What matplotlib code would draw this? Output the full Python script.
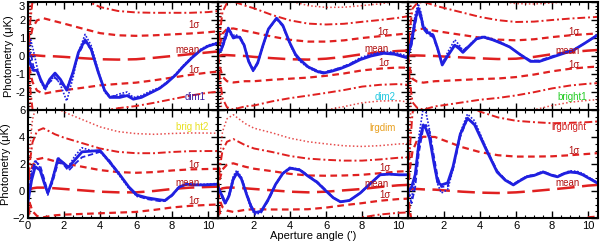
import numpy as np
import matplotlib
matplotlib.use('Agg')
import matplotlib.pyplot as plt
from matplotlib.ticker import MultipleLocator, FixedLocator, FixedFormatter

# envelope grid (aperture angle, arcmin) shared by all panels
x_env = [0, 0.1, 0.25, 0.5, 0.85, 1.5, 2, 3, 4, 5, 6, 7, 8, 9, 10, 10.5]

mean_dim1 = [0, 0.03, 0.05, 0.03, 0.0, -0.02, -0.05, -0.12, -0.18, -0.2, -0.18, -0.1, 0.0, 0.1, 0.2, 0.25]
sig_dim1 = [0, 0.8, 1.5, 1.95, 2.1, 1.95, 1.85, 1.65, 1.45, 1.35, 1.3, 1.25, 1.2, 1.15, 1.12, 1.12]
mean_dim2 = [0, 0.02, 0.05, 0.05, 0.03, 0.0, -0.05, -0.12, -0.18, -0.2, -0.15, -0.05, 0.1, 0.2, 0.28, 0.3]
sig_dim2 = [0, 0.6, 1.2, 1.45, 1.5, 1.4, 1.35, 1.2, 1.08, 1.0, 0.95, 0.92, 0.9, 0.9, 0.92, 0.95]
mean_bright1 = [0, 0.02, 0.03, 0.03, 0.02, 0.0, -0.03, -0.08, -0.13, -0.17, -0.15, -0.05, 0.1, 0.22, 0.3, 0.33]
sig_bright1 = [0, 0.7, 1.3, 1.45, 1.5, 1.4, 1.35, 1.25, 1.15, 1.08, 1.02, 0.98, 0.95, 0.93, 0.92, 0.92]
mean_bright2 = [0, 0.1, 0.2, 0.25, 0.25, 0.2, 0.15, 0.05, -0.05, -0.1, -0.1, 0.0, 0.15, 0.25, 0.3, 0.32]
sig_bright2 = [0, 1.0, 1.7, 2.1, 2.2, 2.0, 1.9, 1.75, 1.6, 1.5, 1.45, 1.4, 1.37, 1.35, 1.33, 1.32]
mean_lrgdim = [0, 0.1, 0.2, 0.25, 0.25, 0.2, 0.15, 0.05, -0.05, -0.1, -0.05, 0.05, 0.15, 0.3, 0.42, 0.45]
sig_lrgdim = [0, 0.8, 1.4, 1.7, 1.8, 1.6, 1.5, 1.42, 1.32, 1.25, 1.18, 1.1, 1.05, 1.02, 1.02, 1.02]
mean_lrgbright = [0, 0.1, 0.15, 0.15, 0.12, 0.1, 0.05, -0.05, -0.12, -0.15, -0.1, 0.0, 0.12, 0.25, 0.4, 0.45]
sig_lrgbright = [0, 1.5, 2.8, 3.6, 3.9, 3.9, 3.7, 3.3, 3.0, 2.8, 2.65, 2.55, 2.45, 2.4, 2.35, 2.35]

# measured photometry profiles (solid / dashed / dotted)
x_dim1 = [0, 0.15, 0.3, 0.5, 0.7, 0.95, 1.2, 1.5, 1.8, 2.15, 2.5, 2.8, 3.17, 3.5, 3.9, 4.25, 4.55, 5.1, 5.5, 5.85, 6.3, 6.8, 7.3, 7.7, 8.2, 8.6, 9.1, 9.6, 10.0, 10.5]
sol_dim1 = [-0.05, -0.5, -0.8, -0.8, -1.3, -1.8, -1.3, -0.95, -1.3, -1.9, -0.9, 0.2, 0.9, 0.4, -0.9, -1.9, -2.3, -2.3, -2.2, -2.4, -2.3, -2.05, -1.8, -1.5, -1.05, -0.6, -0.1, 0.33, 0.55, 0.7]
das_dim1 = [-0.05, 0.2, -0.6, -0.8, -1.4, -1.75, -1.45, -1.2, -1.5, -1.8, -0.9, 0.1, 0.8, 0.35, -0.9, -1.9, -2.25, -2.2, -2.15, -2.35, -2.25, -2.05, -1.8, -1.5, -1.05, -0.6, -0.1, 0.33, 0.55, 0.7]
dot_dim1 = [-0.05, 0.9, 0.3, -0.6, -1.4, -1.9, -1.4, -1.1, -1.6, -2.5, -1.2, 0.2, 1.2, 0.6, -0.8, -2.0, -2.3, -2.1, -2.0, -2.3, -2.2, -1.95, -1.75, -1.45, -1.0, -0.55, -0.05, 0.38, 0.6, 0.75]

x_dim2 = [0, 0.2, 0.4, 0.57, 0.7, 0.85, 1.0, 1.2, 1.45, 1.7, 1.95, 2.2, 2.5, 2.8, 3.25, 3.6, 4.0, 4.3, 4.55, 5.0, 5.5, 5.85, 6.3, 6.8, 7.3, 7.9, 8.5, 9.2, 9.8, 10.5]
sol_dim2 = [0.15, 0.4, 1.0, 1.55, 1.3, 1.0, 1.05, 1.05, 0.6, -0.3, -0.8, -0.4, 0.6, 1.5, 2.1, 1.7, 0.7, 0.1, -0.2, -0.6, -0.85, -0.95, -0.85, -0.7, -0.5, -0.2, 0.0, 0.15, 0.1, -0.1]
das_dim2 = [0.15, 0.3, 0.9, 1.4, 1.35, 1.05, 1.1, 1.1, 0.65, -0.25, -0.75, -0.35, 0.6, 1.5, 2.05, 1.65, 0.65, 0.05, -0.25, -0.6, -0.8, -0.9, -0.8, -0.65, -0.45, -0.15, 0.05, 0.2, 0.15, -0.05]
dot_dim2 = [0.15, 0.6, 1.2, 1.45, 1.2, 1.15, 1.2, 1.0, 0.55, -0.3, -0.85, -0.45, 0.55, 1.45, 2.1, 1.7, 0.7, 0.0, -0.3, -0.65, -0.9, -0.95, -0.8, -0.65, -0.45, -0.1, 0.1, 0.25, 0.2, 0.0]

x_bright1 = [0, 0.2, 0.4, 0.57, 0.7, 0.85, 1.1, 1.4, 1.65, 1.9, 2.2, 2.6, 2.85, 3.05, 3.4, 3.8, 4.2, 4.7, 5.2, 5.65, 6.2, 6.8, 7.3, 7.9, 8.5, 9.2, 9.8, 10.5]
sol_bright1 = [0.05, 0.8, 2.0, 2.65, 2.3, 1.6, 1.3, 1.15, 0.4, -0.5, 0.0, 0.6, 0.4, 0.2, 0.55, 0.95, 1.05, 0.9, 0.7, 0.5, 0.1, -0.3, -0.3, -0.1, 0.1, 0.33, 0.7, 1.15]
das_bright1 = [0.05, 0.6, 1.8, 2.5, 2.1, 1.5, 1.2, 1.05, 0.35, -0.4, 0.05, 0.65, 0.5, 0.3, 0.6, 0.95, 1.05, 0.9, 0.7, 0.5, 0.1, -0.25, -0.25, -0.05, 0.15, 0.35, 0.7, 1.15]
dot_bright1 = [0.05, 1.0, 2.3, 2.9, 2.5, 1.7, 1.4, 1.2, 0.45, -0.45, 0.2, 0.9, 0.6, 0.3, 0.6, 1.0, 1.1, 0.95, 0.75, 0.5, 0.1, -0.25, -0.3, -0.1, 0.15, 0.35, 0.7, 1.15]

x_bright2 = [0, 0.2, 0.4, 0.67, 0.9, 1.1, 1.35, 1.67, 1.95, 2.25, 2.6, 3.0, 3.5, 4.0, 4.5, 5.1, 5.6, 6.05, 6.6, 7.3, 7.6, 8.0, 8.4, 8.8, 9.2, 9.8, 10.5]
sol_bright2 = [-0.8, 0.8, 1.8, 1.55, 0.6, -0.15, 0.8, 2.4, 2.1, 1.75, 2.3, 2.9, 2.95, 3.0, 2.2, 1.2, 0.3, -0.3, -0.5, -0.65, -0.7, -0.3, 0.3, 0.5, 0.45, 0.45, 0.5]
das_bright2 = [-0.8, 1.2, 2.2, 1.9, 0.9, -0.1, 0.6, 2.1, 2.0, 1.5, 2.0, 2.5, 2.7, 2.9, 2.3, 1.2, 0.25, -0.35, -0.6, -0.75, -0.75, -0.35, 0.3, 0.5, 0.45, 0.45, 0.5]
dot_bright2 = [-0.8, 1.5, 2.3, 1.7, 0.7, -0.3, 0.9, 2.5, 2.0, 1.8, 2.6, 3.2, 3.0, 2.9, 2.15, 1.1, 0.2, -0.4, -0.55, -0.7, -0.75, -0.3, 0.3, 0.5, 0.5, 0.5, 0.55]

x_lrgdim = [0, 0.2, 0.4, 0.6, 0.85, 1.05, 1.3, 1.6, 1.85, 2.05, 2.4, 2.8, 3.2, 3.6, 4.0, 4.55, 5.0, 5.5, 6.0, 6.4, 6.8, 7.3, 7.9, 8.5, 9.0, 9.5, 10.05, 10.5]
sol_lrgdim = [0.3, -0.3, -0.9, -0.4, 0.9, 1.35, 0.9, -0.3, -1.2, -1.6, -1.5, -0.6, 0.5, 1.3, 1.7, 1.55, 1.1, 0.65, 0.0, -0.5, -0.8, -0.7, -0.15, 0.6, 1.2, 1.25, 1.2, 1.2]
das_lrgdim = [0.3, -0.2, -0.8, -0.5, 0.8, 1.3, 1.0, -0.2, -1.1, -1.55, -1.55, -0.7, 0.45, 1.3, 1.65, 1.6, 1.15, 0.7, 0.05, -0.5, -0.8, -0.7, -0.15, 0.6, 1.2, 1.25, 1.2, 1.2]
dot_lrgdim = [0.3, -0.4, -1.0, -0.3, 1.1, 1.55, 1.0, -0.4, -1.35, -1.75, -1.6, -0.6, 0.5, 1.35, 1.75, 1.6, 1.1, 0.6, 0.0, -0.5, -0.8, -0.7, -0.15, 0.6, 1.2, 1.25, 1.2, 1.2]

x_lrgbright = [0, 0.2, 0.4, 0.6, 0.85, 1.0, 1.2, 1.45, 1.65, 1.85, 2.2, 2.5, 2.9, 3.3, 3.7, 4.05, 4.4, 4.95, 5.4, 5.85, 6.2, 6.6, 7.0, 7.5, 8.0, 8.3, 8.7, 9.0, 9.4, 9.7, 10.1, 10.5]
sol_lrgbright = [-0.05, 0.3, 1.2, 3.5, 4.9, 4.6, 3.9, 2.0, 0.65, 0.45, 0.6, 1.8, 4.2, 5.4, 4.9, 3.9, 2.9, 1.4, 0.8, 0.45, 0.75, 1.05, 1.15, 1.4, 1.15, 1.05, 1.3, 1.4, 1.35, 1.2, 0.9, 0.6]
das_lrgbright = [-0.05, -0.9, 0.3, 2.8, 4.7, 4.9, 4.4, 2.5, 1.0, 0.3, 0.35, 1.6, 4.0, 5.35, 5.0, 4.0, 3.0, 1.5, 0.85, 0.5, 0.8, 1.1, 1.2, 1.45, 1.2, 1.1, 1.35, 1.45, 1.4, 1.25, 0.95, 0.65]
dot_lrgbright = [-0.05, -0.5, 1.0, 4.0, 6.2, 5.8, 4.5, 2.0, 0.5, -0.15, 0.1, 1.6, 4.3, 5.7, 5.2, 4.1, 3.0, 1.45, 0.85, 0.5, 0.8, 1.1, 1.2, 1.45, 1.2, 1.1, 1.35, 1.5, 1.45, 1.3, 0.95, 0.65]

names = ['dim1', 'dim2', 'bright1', 'brig ht2', 'lrgdim', 'lrgbright']
name_colors = ['#3a1aa0', '#22c8e0', '#22cc22', '#e8e020', '#e8a020', '#d02020']
name_pos = [(9.3, -2.3), (9.3, -2.3), (9.1, -2.3), (9.1, 4.75), (9.15, 4.7), (8.95, 4.75)]
# label positions (x, y) for upper 1sigma, mean, lower 1sigma; None = not shown
sig_up_pos = [(9.2, 1.7), (9.15, 1.35), (9.2, 1.35), (9.2, 1.9), (9.25, 1.7), (9.2, 3.0)]
mean_pos = [(8.85, 0.35), (8.8, 0.4), (8.85, 0.3), (8.85, 0.6), (8.8, 0.5), (8.85, 0.6)]
sig_lo_pos = [(9.2, -0.75), (9.2, -0.4), (9.2, -0.5), (9.2, -0.75), (9.25, -0.3), None]

xs = [x_dim1, x_dim2, x_bright1, x_bright2, x_lrgdim, x_lrgbright]
sols = [sol_dim1, sol_dim2, sol_bright1, sol_bright2, sol_lrgdim, sol_lrgbright]
dass = [das_dim1, das_dim2, das_bright1, das_bright2, das_lrgdim, das_lrgbright]
dots = [dot_dim1, dot_dim2, dot_bright1, dot_bright2, dot_lrgdim, dot_lrgbright]
means = [mean_dim1, mean_dim2, mean_bright1, mean_bright2, mean_lrgdim, mean_lrgbright]
sigs = [sig_dim1, sig_dim2, sig_bright1, sig_bright2, sig_lrgdim, sig_lrgbright]

red = '#e02020'
blue = '#2020e0'
lab_red = '#b01010'

fig = plt.figure(figsize=(6, 2.45), dpi=100)
plt.rcParams['font.family'] = ['Liberation Sans', 'DejaVu Sans']

W = 190 / 600
H = 108 / 245
lefts = [28 / 600, 218 / 600, 408 / 600]
bottoms = [1 - 110 / 245, 1 - 218 / 245]

top_left = None
for i in range(6):
    row = i // 3
    col = i % 3
    ax = fig.add_axes([lefts[col], bottoms[row], W, H])
    if i == 0:
        top_left = ax
    xe = np.array(x_env)
    m = np.array(means[i])
    s = np.array(sigs[i])
    ax.plot(xe, m + 3 * s, color=red, lw=1.1, ls=(0, (1, 1.5)), alpha=0.8)
    ax.plot(xe, m - 3 * s, color=red, lw=1.1, ls=(0, (1, 1.5)), alpha=0.8)
    ax.plot(xe, m + 2 * s, color=red, lw=1.4, ls=(0, (4, 1.5, 1, 1.5)))
    ax.plot(xe, m - 2 * s, color=red, lw=1.4, ls=(0, (4, 1.5, 1, 1.5)))
    ax.plot(xe, m + s, color=red, lw=1.6, ls=(0, (3, 2)))
    ax.plot(xe, m - s, color=red, lw=1.6, ls=(0, (3, 2)))
    ax.plot(xe, m, color=red, lw=1.8, ls=(0, (7, 3)))

    ax.plot(xs[i], dots[i], color=blue, lw=1.2, ls=(0, (1, 1)))
    ax.plot(xs[i], dass[i], color=blue, lw=1.3, ls=(0, (3, 1.5)))
    ax.plot(xs[i], sols[i], color=blue, lw=2.0)

    fs = 7
    ax.text(*sig_up_pos[i], '1σ', color=lab_red, fontsize=fs, ha='center', va='center')
    ax.text(*mean_pos[i], 'mean', color=lab_red, fontsize=fs, ha='center', va='center')
    if sig_lo_pos[i] is not None:
        ax.text(*sig_lo_pos[i], '1σ', color=lab_red, fontsize=fs, ha='center', va='center')
    ax.text(*name_pos[i], names[i], color=name_colors[i], fontsize=fs, ha='center', va='center')

    ax.set_xlim(0, 10.55)
    ax.xaxis.set_major_locator(MultipleLocator(2))
    ax.xaxis.set_minor_locator(MultipleLocator(0.5))
    if row == 0:
        ax.set_ylim(-3, 3)
        ax.yaxis.set_major_locator(MultipleLocator(1))
        ax.yaxis.set_minor_locator(MultipleLocator(0.2))
        ax.set_xticklabels([])
        if col == 0:
            ax.yaxis.set_major_locator(FixedLocator([-3, -2, -1, 0, 1, 2, 3]))
            ax.yaxis.set_major_formatter(FixedFormatter(['', '-2', '-1', '0', '1', '2', '3']))
    else:
        ax.set_ylim(-2, 6)
        ax.yaxis.set_major_locator(MultipleLocator(2))
        ax.yaxis.set_minor_locator(MultipleLocator(0.5))
        ax.xaxis.set_major_locator(FixedLocator([0, 2, 4, 6, 8, 10]))
        if col == 0:
            ax.xaxis.set_major_formatter(FixedFormatter(['0', '2', '4', '6', '8', '10']))
        else:
            ax.xaxis.set_major_formatter(FixedFormatter(['', '2', '4', '6', '8', '10']))
    if col != 0:
        ax.set_yticklabels([])
    ax.tick_params(which='both', direction='in', top=True, right=True, labelsize=8, pad=2)
    ax.tick_params(which='major', length=5, width=1)
    ax.tick_params(which='minor', length=2.5, width=0.8)
    for sp in ax.spines.values():
        sp.set_linewidth(1.5)
    if col == 0:
        ax.set_ylabel('Photometry (μK)', fontsize=8, labelpad=1)

fig.text(313 / 600, 0.015, "Aperture angle (')", fontsize=8, ha='center', va='bottom')

# keep the top "3" tick label inside the figure
fig.canvas.draw()
for t in top_left.yaxis.get_major_ticks():
    if t.label1.get_text() == '3':
        t.label1.set_verticalalignment('top')
        t.label1.set_y(3.05)

fig.savefig('out.png', dpi=100)
